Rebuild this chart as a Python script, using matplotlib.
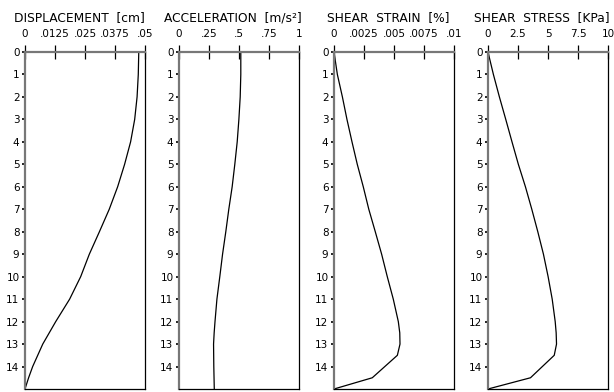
import numpy as np
import matplotlib
matplotlib.use("Agg")
import matplotlib.pyplot as plt

# depth profiles (m)
depth_a = [0, 1, 2, 3, 4, 5, 6, 7, 8, 9, 10, 11, 12, 13, 14, 14.5, 15]
displacement = [0.0474, 0.0472, 0.0467, 0.0457, 0.0440, 0.0415, 0.0386, 0.0351,
                0.0310, 0.0268, 0.0232, 0.0186, 0.0128, 0.0074, 0.0032, 0.0015, 0.0]

depth = [0, 1, 2, 3, 4, 5, 6, 7, 8, 9, 10, 11, 12, 12.5, 13, 13.5, 14, 14.5, 15]
acceleration = [0.515, 0.515, 0.510, 0.499, 0.485, 0.465, 0.443, 0.415,
                0.390, 0.363, 0.340, 0.316, 0.300, 0.293, 0.288, 0.289,
                0.290, 0.292, 0.294]

depth_b = [0, 1, 2, 3, 4, 5, 6, 7, 8, 9, 10, 11, 12, 12.5, 13, 13.5, 14.5, 15]
shear_strain = [0.0, 0.00028, 0.0007, 0.00108, 0.0015, 0.00194, 0.00244, 0.0029,
                0.00344, 0.00397, 0.00444, 0.00494, 0.00536, 0.00548, 0.0055,
                0.00528, 0.00319, 0.0]
shear_stress = [0.0, 0.45, 0.95, 1.48, 2.0, 2.53, 3.12, 3.65, 4.15, 4.62, 5.01,
                5.35, 5.6, 5.68, 5.71, 5.52, 3.54, 0.0]

titles = ["DISPLACEMENT  [cm]", "ACCELERATION  [m/s\u00b2]",
          "SHEAR  STRAIN  [%]", "SHEAR  STRESS  [KPa]"]
xticks = [[0, 0.0125, 0.025, 0.0375, 0.05], [0, 0.25, 0.5, 0.75, 1],
          [0, 0.0025, 0.005, 0.0075, 0.01], [0, 2.5, 5, 7.5, 10]]
xticklabels = [["0", ".0125", ".025", ".0375", ".05"], ["0", ".25", ".5", ".75", "1"],
               ["0", ".0025", ".005", ".0075", ".01"], ["0", "2.5", "5", "7.5", "10"]]
depth_ticks = list(range(15))

fig = plt.figure(figsize=(6.14, 3.92), dpi=100)
lefts = [25, 179, 334, 488]
series = [(displacement, depth_a), (acceleration, depth),
          (shear_strain, depth_b), (shear_stress, depth_b)]

for i in range(4):
    ax = fig.add_axes([lefts[i] / 614, 1 - 389 / 392, 120 / 614, 337 / 392])
    vals, dd = series[i]
    ax.plot(vals, dd, color="black", lw=0.9)
    ax.set_xlim(xticks[i][0], xticks[i][-1])
    ax.set_ylim(15, 0)
    ax.xaxis.tick_top()
    ax.set_xticks(xticks[i])
    ax.set_xticklabels(xticklabels[i])
    ax.tick_params(axis="x", direction="inout", length=10, width=0.9, pad=4,
                   labelsize=7.5, color="black")
    ax.set_yticks(depth_ticks)
    ax.set_yticklabels([str(d) for d in depth_ticks])
    ax.tick_params(axis="y", direction="out", length=2, width=1.2, pad=2,
                   labelsize=7.5, color="black")
    for s in ["top", "left"]:
        ax.spines[s].set_color("#777777")
        ax.spines[s].set_linewidth(1.6)
    for s in ["right", "bottom"]:
        ax.spines[s].set_color("black")
        ax.spines[s].set_linewidth(0.9)
    ax.set_title(titles[i], fontsize=8.8, pad=22, x=0.45)

fig.savefig("out.png", dpi=100)
